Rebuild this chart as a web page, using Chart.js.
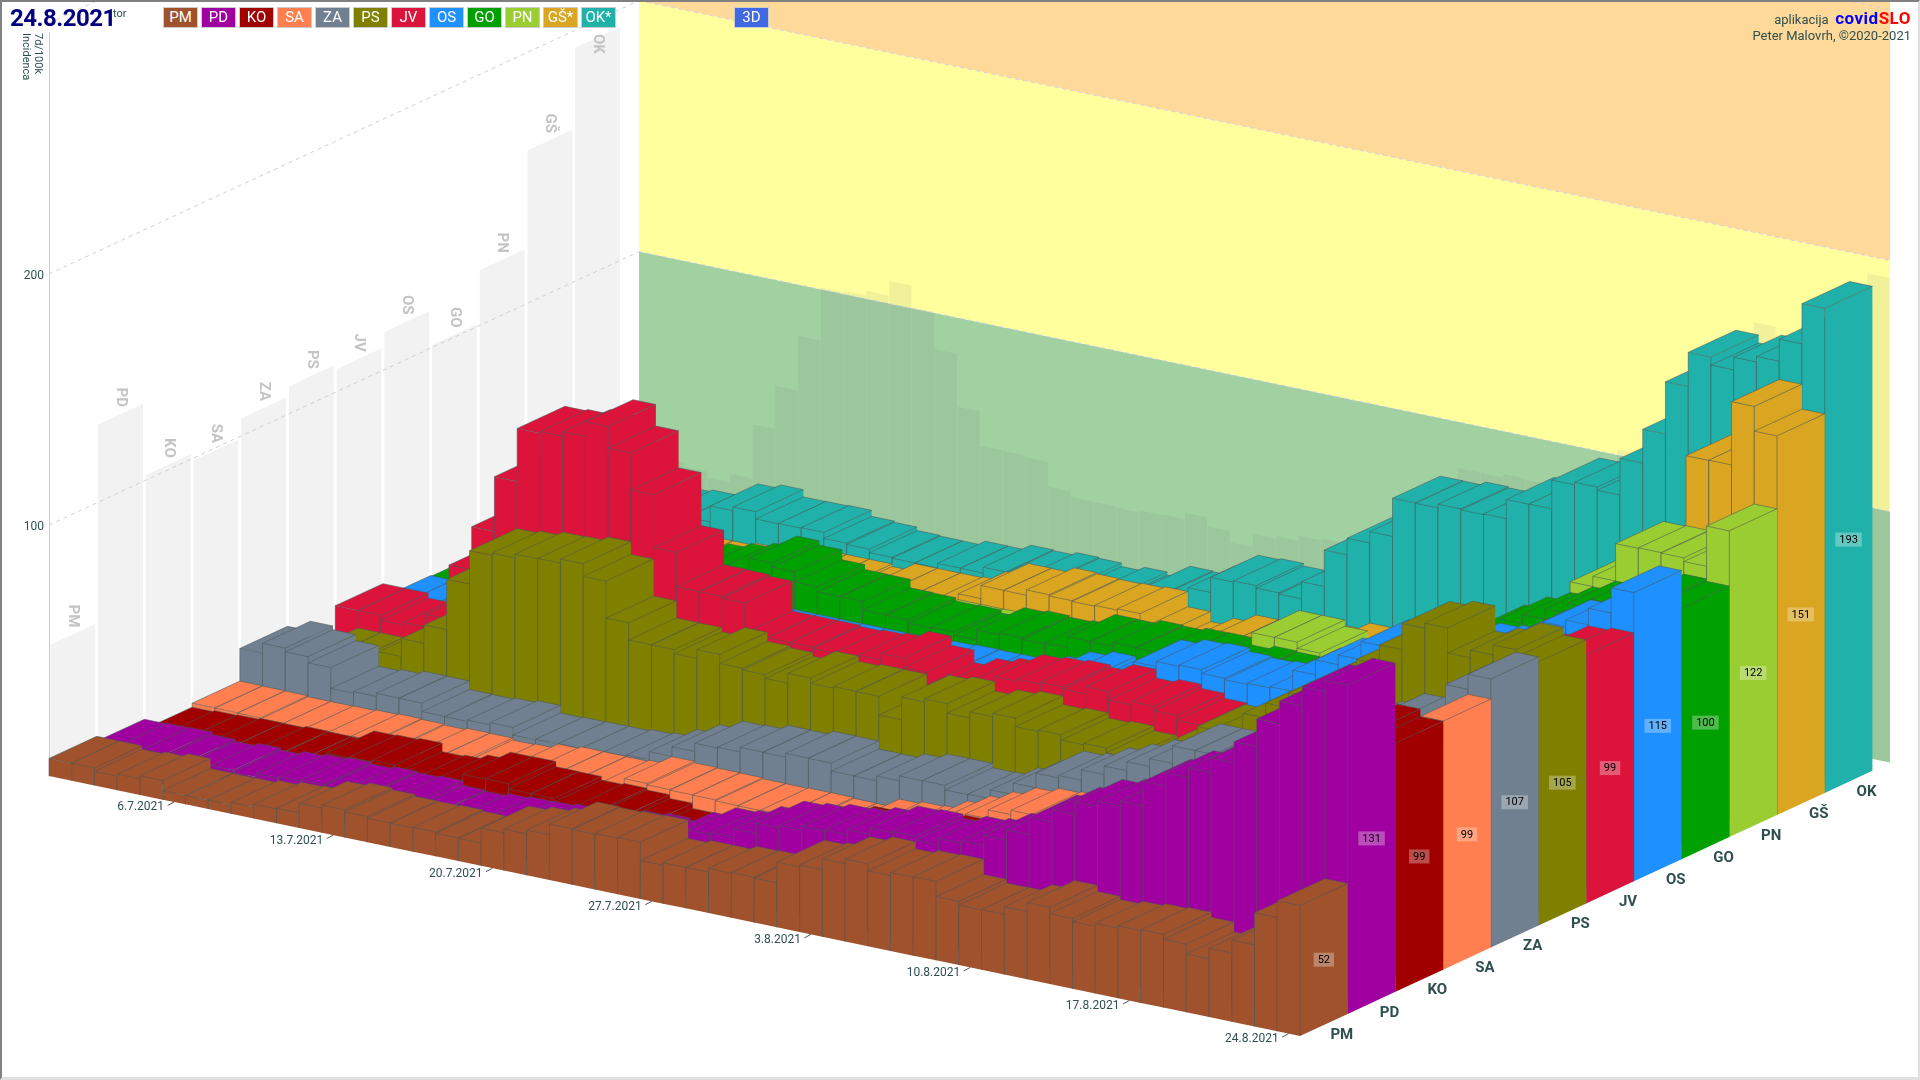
<!DOCTYPE html>
<html>
<head>
<meta charset="utf-8">
<title>7d/100k incidenca 3D</title>
<style>
html, body { margin: 0; padding: 0; background: #fff; }
#wrap { position: relative; width: 1920px; height: 1080px; overflow: hidden; font-family: Roboto, sans-serif; color: #2f4f4f; }
#chart3d { position: absolute; left: 0; top: 0; }
#frame { position: absolute; left: 0; top: 0; width: 1920px; height: 1080px; box-sizing: border-box; pointer-events: none;
  border-top: 2px solid #808080; border-left: 2px solid #808080; border-right: 2px solid #e0e0e0; border-bottom: 3px solid #e0e0e0; }
.abs { position: absolute; white-space: nowrap; }
.btn { position: absolute; top: 7px; width: 33px; height: 19px; line-height: 19px; text-align: center; color: #fff; font-size: 15px; border: 1px solid #ccc; }
</style>
<script src="https://cdn.jsdelivr.net/npm/chart.js@4/dist/chart.umd.min.js"></script>
</head>
<body>
<div id="wrap">
  <canvas id="chart3d" width="1920" height="1080"></canvas>
  <div id="legend"></div>
  <div class="abs" style="left:10px;top:4px;font-size:24px;font-weight:700;color:#000080;letter-spacing:-0.5px">24.8.2021</div>
  <div class="abs" style="left:113px;top:7px;font-size:11px">tor</div>
  <div class="abs" style="right:9px;top:9px;font-size:13px;line-height:18px">aplikacija &nbsp;<b style="font-size:17px;letter-spacing:0.5px;color:#0000ff">covid</b><b style="font-size:17px;letter-spacing:0.5px;color:#ff0000">SLO</b></div>
  <div class="abs" style="right:9px;top:28px;font-size:13px">Peter Malovrh, ©2020-2021</div>
  <div id="frame"></div>
</div>
<script>
// dnevi na osi
const days = ['1.7.2021','2.7.2021','3.7.2021','4.7.2021','5.7.2021','6.7.2021','7.7.2021','8.7.2021','9.7.2021','10.7.2021','11.7.2021',
  '12.7.2021','13.7.2021','14.7.2021','15.7.2021','16.7.2021','17.7.2021','18.7.2021','19.7.2021','20.7.2021','21.7.2021','22.7.2021',
  '23.7.2021','24.7.2021','25.7.2021','26.7.2021','27.7.2021','28.7.2021','29.7.2021','30.7.2021','31.7.2021','1.8.2021','2.8.2021',
  '3.8.2021','4.8.2021','5.8.2021','6.8.2021','7.8.2021','8.8.2021','9.8.2021','10.8.2021','11.8.2021','12.8.2021','13.8.2021','14.8.2021',
  '15.8.2021','16.8.2021','17.8.2021','18.8.2021','19.8.2021','20.8.2021','21.8.2021','22.8.2021','23.8.2021','24.8.2021'];
const dateTicks = ['6.7.2021','13.7.2021','20.7.2021','27.7.2021','3.8.2021','10.8.2021','17.8.2021','24.8.2021'];
const regions = ['PM','PD','KO','SA','ZA','PS','JV','OS','GO','PN','GŠ','OK'];
const regionColors = ['#a0522d','#a000a0','#a00000','#ff7f50','#708090','#808000','#dc143c','#1e90ff','#00a000','#9acd32','#daa520','#20b2aa'];
const legendLabels = ['PM','PD','KO','SA','ZA','PS','JV','OS','GO','PN','GŠ*','OK*'];

const PM = [7,7,5.6,6.4,7.6,3.6,3.5,3.6,4.5,5.7,6,9.8,11,10.2,9.5,9.4,9.7,9.2,9,15,16.5,18,22.3,22,22.3,22.6,15.3,16.3,16.3,17.8,18,17.7,25.9,26.7,31,32.8,30,31.2,31.5,25.4,23.9,24,27,30.5,28,26.7,27.9,28.8,29.2,27.2,23.2,27.4,32.5,45.3,52];
const PD = [5,5.3,5.5,4.5,3.7,4.8,4,5.3,6,6.6,6,6.8,6.4,6.9,5,4.6,5.5,6,6.2,7,8,9,10,10.8,10,15,18.7,19.5,23,27,28,29.5,30,32,34.5,35,33.4,36,37,41,45,52,57,62,64,66,75.7,81,84.8,90.6,99,110,119,126.6,131];
const KO = [1,1.5,1.7,2.2,2.1,2.7,2.5,2.4,6.6,6.9,7.4,4,4.5,6.4,9.4,9.5,7.4,7.3,5.9,6.4,5.7,4.2,2.1,2,2,4,9,10,13,16,18,19,20,21,22,22,22,24,26,30,33,38,42,46,50,54,60,65,70,75,80,85,90,102,99];
const SA = [2.6,2.5,2.4,2,2,2.1,2.4,2.7,2.4,2,2.6,2.5,1.7,2,3.9,4.7,4.6,4.5,5,8.3,7.7,7.5,7.4,7,6.9,7.1,7.1,6.7,6.6,10.2,11,11.3,15.1,19,22.5,26,27.7,28.2,28,30,32,38,42,45,48,50,55,60,65,72,78,83,85,88,99];
const ZA = [15.6,19.5,18,15.5,7.2,7.8,9,8.9,5.5,5.4,5.9,6.7,3.7,3.9,4,4,4.6,5.2,8.4,12.2,15.5,15.8,17.6,17.5,19,18.9,15.7,15.6,17.5,19.4,19.4,17.6,17.8,21.4,26,31.8,32.8,36.9,40.3,43.9,47,54,54,55,58,62,66,70,74,78,83,84,85,101,107];
const PS = [5,8,8,6,13,20.2,27.4,47.5,60.8,61.7,63.2,63.4,65,60,45.2,38.4,38.3,36.7,40.2,36.6,35.9,34.4,38.3,36.2,36.8,36.7,29.2,38.2,39.4,35.6,38,39.3,35.9,36.4,34.3,34.9,33,30,35,44,51,53,60,66,72,78,84,91,98.6,109,111,101,104,108,105];
const JV = [15,15,13,14,19,40.6,57.8,79.6,100.7,101.3,103.2,109,100.4,85.6,64.5,50.8,50.7,50,38,38,38,37.5,38,38.6,41.2,37.5,32.5,36,38,41.4,42.2,42.9,42,44.9,41.4,42.7,41,39,25,30,35,38,44,50,55,60,66,72,78,85,90,90,93,98,99];
const OS = [9.4,9.5,9,9,9,10,10,11,12,14,16,18,20,22,24,26,26,26,26,26,26,26,26.5,26.7,27,26.9,27,27.9,30,33.7,35.6,34,39,46,48,48.5,47,46.4,46.9,47.4,55.9,61.8,65.7,72.9,74,76,78,79,80,84,90,95.8,98.4,105,115];
const GO = [9,9,9,9,10,10,10,15,20,25,30,34,36,38,42.7,41,37,35,34.9,31.5,31.3,30,30.2,29,33,33.6,33,33.5,37.8,37.7,39.2,38.9,39.9,40,37,38.4,38,37.3,37,38,46,52,56,62,64,68.6,75.5,80.6,84.3,88.4,92.6,96,98,101,100];
const PN = [8,8,8,8,9,9,10,10,11,12,12,13,14,15,15,16,16,16,17,18,18,18,18,18,20,20,20,20,25,25,26,26,26,27,41.9,41.9,39.4,28,28,28,36,42,46,52,54,59,66,70,88.5,92.6,107.5,107.7,107.5,106,122];
const GS = [9,9,9,10,10,10,10,10,11,12,13,14,14,14,13,16,16,16,16.4,20.3,25.5,25.4,27.5,27,26.7,27,27.5,21.4,17.4,20.6,23.8,23.7,22,24,27,30,29.8,30,32,35,38,43,46,50,54,58,63,66,79,83,98,135.6,135.7,160.9,151];
const OK = [15,15,15,15,15.8,15.7,22,23.5,20.6,20.7,20.9,18.5,18,16.6,16.3,16.2,18,17.9,20.2,19.9,21,20.6,19.2,20.8,19.6,25,24.7,29,35,35.5,34.5,34,40.8,55.3,61.9,66.4,81.6,81.5,83,82.6,82.9,90.5,90.6,102,103,101.7,116.3,129.8,150.6,164.2,161,166,168.2,177,193];
const series = [PM, PD, KO, SA, ZA, PS, JV, OS, GO, PN, GS, OK];

// projekcija: premik stolpca v pikslih glede na dan in regijo
const REG_DX = 47.7, REG_DY = -22.1, DAY_DY = 4.727;
const WALL_R = 12.37;
const EDGE = 'rgba(75,85,85,0.55)';

// legenda zgoraj
const legendBox = document.getElementById('legend');
legendLabels.forEach((t, i) => {
  const b = document.createElement('div');
  b.className = 'btn';
  b.style.left = (163 + i * 38) + 'px';
  b.style.background = regionColors[i];
  b.textContent = t;
  legendBox.appendChild(b);
});
const b3d = document.createElement('div');
b3d.className = 'btn';
b3d.style.left = '734px';
b3d.style.background = '#4169e1';
b3d.textContent = '3D';
legendBox.appendChild(b3d);

// stolpci kot kvadri, nizi se rišejo od zadaj naprej
class Bar3dController extends Chart.BarController {
  draw() {
    const ctx = this.chart.ctx;
    const r = this.index;
    ctx.save();
    ctx.lineWidth = 1;
    this.getMeta().data.forEach((bar, d) => {
      const x0 = bar.x - bar.width / 2 + r * REG_DX;
      const x1 = x0 + bar.width;
      const off0 = d * DAY_DY + r * REG_DY;
      const off1 = off0 + DAY_DY;
      const topY0 = bar.y + off0, topY1 = bar.y + off1;
      const baseY0 = bar.base + off0, baseY1 = bar.base + off1;
      ctx.fillStyle = regionColors[r];
      // stranica vzdolž dni
      ctx.beginPath();
      ctx.moveTo(x0, baseY0); ctx.lineTo(x0, topY0); ctx.lineTo(x1, topY1); ctx.lineTo(x1, baseY1);
      ctx.closePath(); ctx.fill();
      // stranica vzdolž regij
      ctx.beginPath();
      ctx.moveTo(x1, baseY1); ctx.lineTo(x1, topY1); ctx.lineTo(x1 + REG_DX, topY1 + REG_DY); ctx.lineTo(x1 + REG_DX, baseY1 + REG_DY);
      ctx.closePath(); ctx.fill();
      // vrh
      ctx.beginPath();
      ctx.moveTo(x0, topY0); ctx.lineTo(x1, topY1); ctx.lineTo(x1 + REG_DX, topY1 + REG_DY); ctx.lineTo(x0 + REG_DX, topY0 + REG_DY);
      ctx.closePath(); ctx.fill();
      ctx.strokeStyle = EDGE;
      ctx.stroke();
      ctx.beginPath();
      ctx.moveTo(x0, baseY0); ctx.lineTo(x0, topY0);
      ctx.moveTo(x1, baseY1); ctx.lineTo(x1, topY1);
      ctx.stroke();
    });
    ctx.restore();
  }
}
Bar3dController.id = 'bar3d';
Bar3dController.defaults = Chart.BarController.defaults;
Bar3dController.overrides = Chart.BarController.overrides;
Chart.register(Bar3dController);

function point(chart, d, r, v) {
  const a = chart.chartArea;
  const step = (a.right - a.left) / days.length;
  return { x: a.left + d * step + r * REG_DX, y: chart.scales.y.getPixelForValue(v) + d * DAY_DY + r * REG_DY };
}

function poly(ctx, pts, fill) {
  ctx.beginPath();
  pts.forEach((p, i) => i ? ctx.lineTo(p.x, p.y) : ctx.moveTo(p.x, p.y));
  ctx.closePath();
  ctx.fillStyle = fill;
  ctx.fill();
}

const walls = {
  id: 'walls',
  beforeDatasetsDraw(chart) {
    const ctx = chart.ctx;
    const P = (d, r, v) => point(chart, d, r, v);
    const n = days.length;
    ctx.save();
    // zadnja stena s pasovi
    const bands = [[0, 100, '#a1d0a1'], [100, 200, '#ffff9e'], [200, 420, '#ffd99a']];
    bands.forEach(([lo, hi, col]) => poly(ctx, [P(0, WALL_R, lo), P(n, WALL_R, lo), P(n, WALL_R, hi), P(0, WALL_R, hi)], col));
    // senca najvišje vrednosti po dnevih
    days.forEach((_, d) => {
      const top = Math.max(...series.map(s => s[d]));
      poly(ctx, [P(d, WALL_R, 0), P(d + 0.97, WALL_R, 0), P(d + 0.97, WALL_R, top), P(d, WALL_R, top)], 'rgba(120,120,120,0.1)');
    });
    // leva stena: najvišja vrednost regije
    regions.forEach((_, r) => {
      const top = Math.max(...series[r]);
      poly(ctx, [P(0, r + 0.03, 0), P(0, r + 0.97, 0), P(0, r + 0.97, top), P(0, r + 0.03, top)], '#f2f2f2');
    });
    // črte mreže na stenah
    ctx.lineWidth = 1;
    ctx.setLineDash([4, 4]);
    [100, 200, 300].forEach(v => {
      ctx.strokeStyle = '#cfcfcf';
      ctx.beginPath();
      let p = P(0, 0, v); ctx.moveTo(p.x, p.y);
      p = P(0, WALL_R, v); ctx.lineTo(p.x, p.y);
      ctx.stroke();
      ctx.strokeStyle = 'rgba(205,205,225,0.9)';
      ctx.beginPath();
      ctx.moveTo(p.x, p.y);
      p = P(n, WALL_R, v); ctx.lineTo(p.x, p.y);
      ctx.stroke();
    });
    ctx.restore();
  },
  afterDatasetsDraw(chart) {
    const ctx = chart.ctx;
    const P = (d, r, v) => point(chart, d, r, v);
    const n = days.length;
    ctx.save();
    ctx.textBaseline = 'middle';
    // oznake na levi steni
    ctx.font = 'bold 15px Roboto';
    ctx.fillStyle = '#c4c4c4';
    regions.forEach((t, r) => {
      const top = P(0, r + 0.5, Math.max(...series[r]));
      const w = ctx.measureText(t).width;
      const cy = Math.max(top.y - 7 - w / 2, 34 + w / 2);
      ctx.save();
      ctx.translate(top.x, cy);
      ctx.rotate(Math.PI / 2);
      ctx.textAlign = 'center';
      ctx.fillText(t, 0, 0);
      ctx.restore();
    });
    // naslov osi
    ctx.font = '11px Roboto';
    ctx.fillStyle = '#2f4f4f';
    [['7d/100k', 38], ['Incidenca', 26]].forEach(([t, x]) => {
      ctx.save();
      ctx.translate(x, 33);
      ctx.rotate(Math.PI / 2);
      ctx.textAlign = 'left';
      ctx.fillText(t, 0, 0);
      ctx.restore();
    });
    // datumi
    ctx.font = '12px Roboto';
    ctx.textAlign = 'right';
    ctx.strokeStyle = '#555';
    dateTicks.forEach(t => {
      const p = P(days.indexOf(t) + 0.5, 0, 0);
      ctx.beginPath();
      ctx.moveTo(p.x, p.y);
      ctx.lineTo(p.x - 6.5, p.y + 3.5);
      ctx.stroke();
      ctx.fillStyle = '#2f4f4f';
      ctx.fillText(t, p.x - 10, p.y + 5.5);
    });
    // regije pred stolpci
    ctx.font = 'bold 15px Roboto';
    ctx.textAlign = 'center';
    regions.forEach((t, r) => {
      const p = P(n, r + 0.5, 0);
      ctx.fillStyle = '#2f4f4f';
      ctx.fillText(t, p.x + 18, p.y + 10);
    });
    // zadnja vrednost na stolpcu
    ctx.font = '11px Roboto';
    series.forEach((s, r) => {
      const v = s[s.length - 1];
      const p = P(n, r + 0.5, v / 2);
      const t = String(Math.round(v));
      const w = ctx.measureText(t).width + 8;
      ctx.fillStyle = 'rgba(255,255,255,0.3)';
      ctx.fillRect(p.x - w / 2, p.y - 7, w, 14);
      ctx.fillStyle = '#000';
      ctx.fillText(t, p.x, p.y + 0.5);
    });
    ctx.restore();
  }
};

new Chart(document.getElementById('chart3d').getContext('2d'), {
  type: 'bar3d',
  data: {
    labels: days,
    datasets: regions.map((name, i) => ({
      label: name,
      data: series[i],
      backgroundColor: regionColors[i],
      clip: false,
      grouped: false,
      barPercentage: 1,
      categoryPercentage: 1
    }))
  },
  plugins: [walls],
  options: {
    responsive: false,
    animation: false,
    events: [],
    layout: { padding: { top: 32, right: 620, bottom: 304, left: 0 } },
    plugins: { legend: { display: false }, tooltip: { enabled: false } },
    scales: {
      x: { type: 'category', display: false },
      y: {
        type: 'linear',
        min: 0,
        max: 296.4,
        position: 'left',
        afterFit(scale) { scale.width = 49; },
        afterBuildTicks(scale) { scale.ticks = [{ value: 100 }, { value: 200 }]; },
        grid: { drawOnChartArea: false, drawTicks: false },
        border: { color: '#cccccc' },
        ticks: { padding: 5, labelOffset: 2, color: '#2f4f4f', font: { family: 'Roboto', size: 12 } }
      }
    }
  }
});
</script>
</body>
</html>
